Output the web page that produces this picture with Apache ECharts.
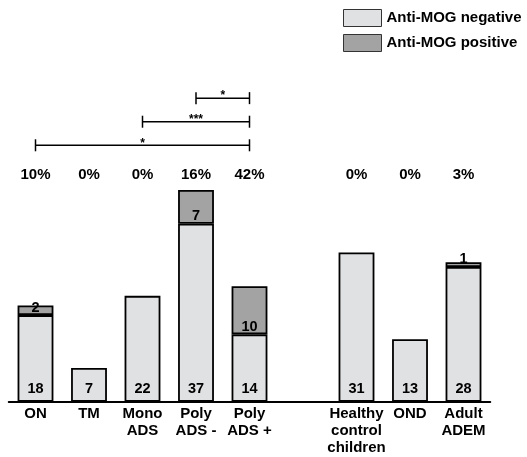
<!DOCTYPE html>
<html>
<head>
<meta charset="utf-8">
<style>
  html, body { margin: 0; padding: 0; background: #ffffff; }
  #chart { width: 527px; height: 457px; }
</style>
<script src="https://cdn.jsdelivr.net/npm/echarts@6/dist/echarts.min.js"></script>
</head>
<body>
<div id="chart"></div>
<script>
// Patient groups along the x axis (empty slot separates the control groups)
const categories = ['ON', 'TM', 'Mono\nADS', 'Poly\nADS -', 'Poly\nADS +', '', 'Healthy\ncontrol\nchildren', 'OND', 'Adult\nADEM'];
// Counts per group
const negativeCounts = [18, 7, 22, 37, 14, null, 31, 13, 28];
const positiveCounts = [2, 0, 0, 7, 10, null, 0, 0, 1];
// Share of anti-MOG positive patients per group
const percentLabels = ['10%', '0%', '0%', '16%', '42%', '', '0%', '0%', '3%'];
// Significance brackets: from group index to group index, height in count units, marker
const bracketFrom = [0, 2, 3];
const bracketTo = [4, 4, 4];
const bracketLevel = [53.3, 58.2, 63.1];
const bracketMarks = ['*', '***', '*'];
const percentRowLevel = 47.1;

const FONT = "'Liberation Sans', Arial, sans-serif";
const chart = echarts.init(document.getElementById('chart'));

const bracketData = bracketFrom.map((f, i) => [f, bracketTo[i], bracketLevel[i], bracketMarks[i]]);

chart.setOption({
  animation: false,
  textStyle: { fontFamily: FONT },
  legend: {
    orient: 'vertical',
    left: 343,
    top: 9,
    padding: 0,
    icon: 'rect',
    itemWidth: 38,
    itemHeight: 17,
    itemGap: 7,
    itemStyle: { borderColor: '#333', borderWidth: 1 },
    textStyle: { fontFamily: FONT, fontSize: 15, fontWeight: 'bold', color: '#000' },
    data: ['Anti-MOG negative', 'Anti-MOG positive']
  },
  grid: { left: 8.75, right: 36.75, top: 89, bottom: 55.3, containLabel: false },
  xAxis: {
    type: 'category',
    data: categories,
    axisLine: { show: true, lineStyle: { color: '#000', width: 2 } },
    axisTick: { show: false },
    axisLabel: {
      interval: 0,
      margin: 4,
      color: '#000',
      fontFamily: FONT,
      fontSize: 15,
      fontWeight: 'bold',
      lineHeight: 17
    }
  },
  yAxis: { type: 'value', min: 0, max: 65, show: false, splitLine: { show: false } },
  series: [
    {
      name: 'Anti-MOG negative',
      type: 'bar',
      stack: 'mog',
      barCategoryGap: '33%',
      data: negativeCounts,
      itemStyle: { color: '#e0e1e3', borderColor: '#000', borderWidth: 1.8 },
      label: {
        show: true,
        position: 'insideBottom',
        distance: 5,
        color: '#000',
        fontFamily: FONT,
        fontSize: 14.5,
        fontWeight: 'bold'
      }
    },
    {
      name: 'Anti-MOG positive',
      type: 'bar',
      stack: 'mog',
      data: positiveCounts.map(v => (v ? v : null)),
      itemStyle: { color: '#a3a3a3', borderColor: '#000', borderWidth: 1.8 },
      label: {
        show: true,
        position: 'insideBottom',
        distance: 0,
        color: '#000',
        fontFamily: FONT,
        fontSize: 14.5,
        fontWeight: 'bold'
      }
    },
    {
      // percentage row above the bars
      type: 'scatter',
      symbolSize: 0,
      silent: true,
      itemStyle: { opacity: 1 },
      data: percentLabels.map((p, i) => (p ? [i, percentRowLevel] : null)),
      label: {
        show: true,
        position: 'inside',
        formatter: (params) => percentLabels[params.dataIndex],
        color: '#000',
        opacity: 1,
        fontFamily: FONT,
        fontSize: 15,
        fontWeight: 'bold'
      }
    },
    {
      // significance brackets
      type: 'custom',
      silent: true,
      data: bracketData,
      renderItem: (params, api) => {
        const a = api.coord([api.value(0), api.value(2)]);
        const b = api.coord([api.value(1), api.value(2)]);
        const mark = bracketMarks[params.dataIndex];
        const tick = 6;
        const style = { stroke: '#000', lineWidth: 1.5 };
        return {
          type: 'group',
          children: [
            { type: 'line', shape: { x1: a[0], y1: a[1], x2: b[0], y2: b[1] }, style },
            { type: 'line', shape: { x1: a[0], y1: a[1] - tick, x2: a[0], y2: a[1] + tick }, style },
            { type: 'line', shape: { x1: b[0], y1: b[1] - tick, x2: b[0], y2: b[1] + tick }, style },
            {
              type: 'text',
              style: {
                x: (a[0] + b[0]) / 2,
                y: a[1] - 2,
                text: mark,
                fill: '#000',
                font: 'bold 12px ' + FONT,
                align: 'center',
                verticalAlign: 'middle'
              }
            }
          ]
        };
      }
    }
  ]
});
</script>
</body>
</html>
